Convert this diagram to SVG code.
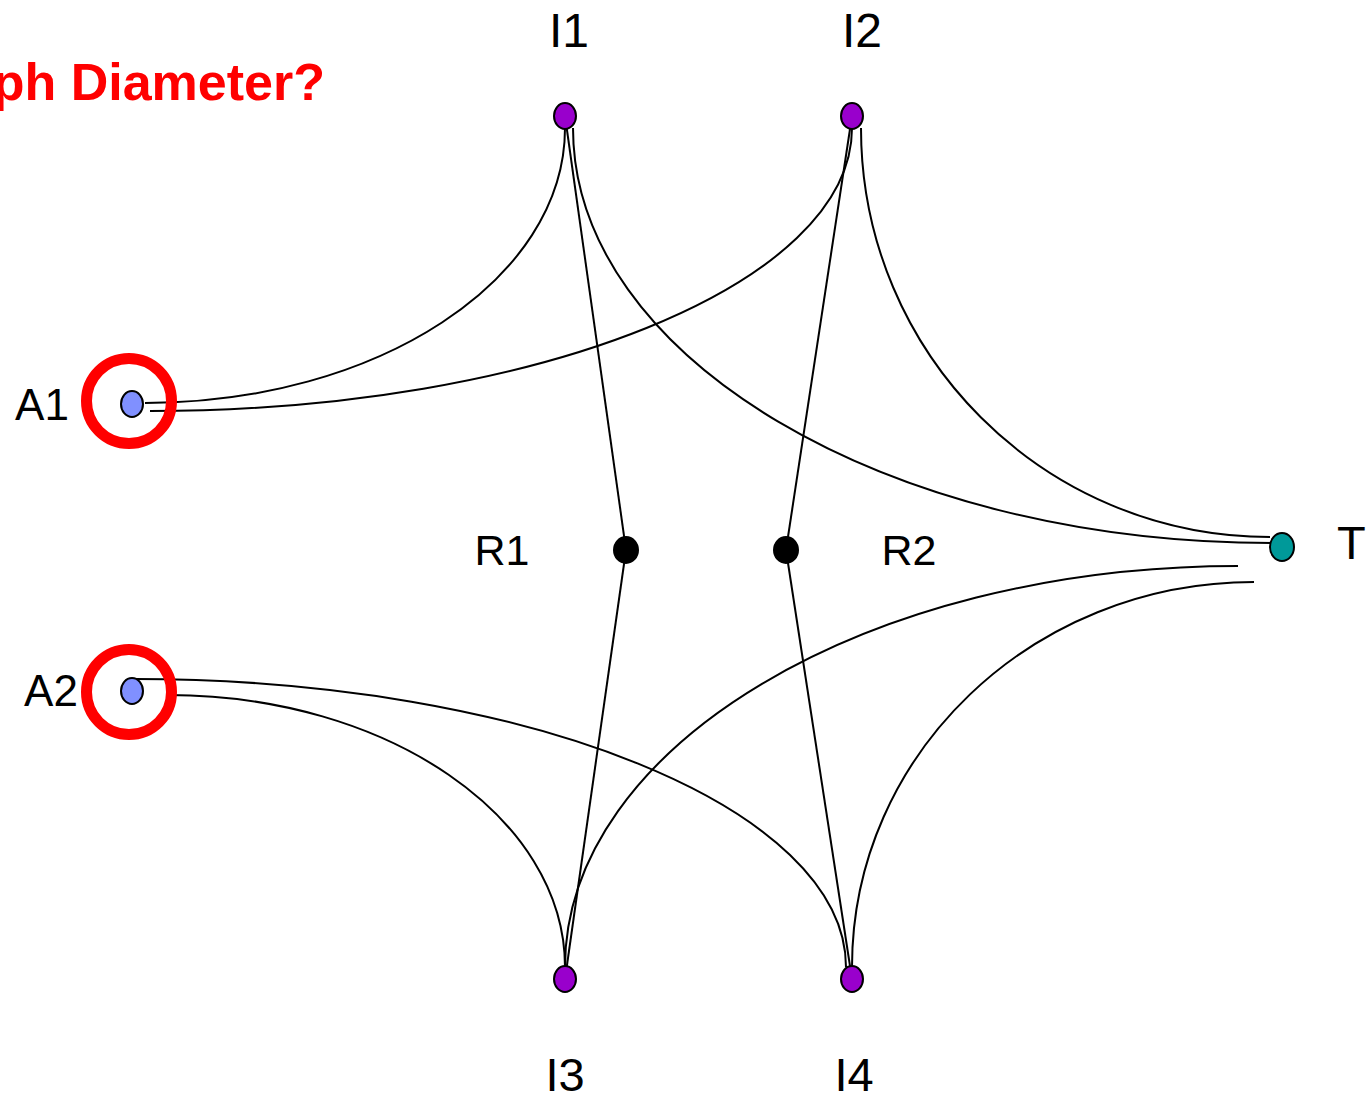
<svg xmlns="http://www.w3.org/2000/svg" width="1370" height="1098" viewBox="0 0 1370 1098">
<style>
.edge{fill:none;stroke:#000;stroke-width:2}
.node{stroke:#000;stroke-width:2}
.inner{fill:#9900CC}
.access{fill:#8090FF}
.router{fill:#000}
.target{fill:#009999}
.lbl{font-family:"Liberation Sans",Arial,sans-serif;fill:#000}
.ring{fill:none;stroke:#FF0000;stroke-width:11}
</style>
<rect width="1370" height="1098" fill="#fff"/>
<text x="325" y="100" font-family="Liberation Sans, Arial, sans-serif" font-weight="bold" font-size="52" fill="#FF0000" text-anchor="end">ph Diameter?</text>
<g id="connectors">
<path class="edge" d="M145,403 C377,403 565,280 565,128"/>
<path class="edge" d="M150,411 C538,411 852,284 852,128"/>
<path class="edge" d="M861,128 C861,354 1044,537 1270,537"/>
<path class="edge" d="M573,128 C573,357 886,543 1272,543"/>
<path class="edge" d="M1238,566 C867,566 565,746 565,967"/>
<path class="edge" d="M1254,582 C1032,582 852,754 852,967"/>
<path class="edge" d="M168,695 C387,695 565,817 565,967"/>
<path class="edge" d="M135,679 C527,679 846,808 846,967"/>
<line class="edge" x1="565" y1="116" x2="626" y2="550"/>
<line class="edge" x1="626" y1="550" x2="565" y2="979"/>
<line class="edge" x1="852" y1="116" x2="786" y2="550"/>
<line class="edge" x1="786" y1="550" x2="852" y2="979"/>
</g>
<g id="I1"><ellipse class="node inner" cx="565" cy="116" rx="11" ry="13"/><text class="lbl" x="569" y="47" font-size="48" text-anchor="middle">I1</text></g>
<g id="I2"><ellipse class="node inner" cx="852" cy="116" rx="11" ry="13"/><text class="lbl" x="862" y="47" font-size="48" text-anchor="middle">I2</text></g>
<g id="I3"><ellipse class="node inner" cx="565" cy="979" rx="11" ry="13"/><text class="lbl" x="565" y="1091" font-size="47" text-anchor="middle">I3</text></g>
<g id="I4"><ellipse class="node inner" cx="852" cy="979" rx="11" ry="13"/><text class="lbl" x="854" y="1091" font-size="47" text-anchor="middle">I4</text></g>
<g id="A1"><ellipse class="node access" cx="132" cy="404" rx="11" ry="13"/><text class="lbl" x="42" y="420" font-size="44" text-anchor="middle">A1</text><circle class="ring" cx="129" cy="401" r="42.5"/></g>
<g id="A2"><ellipse class="node access" cx="132" cy="691" rx="11" ry="13"/><text class="lbl" x="51" y="706" font-size="44" text-anchor="middle">A2</text><circle class="ring" cx="129" cy="692" r="42.5"/></g>
<g id="R1"><ellipse class="node router" cx="626" cy="550" rx="12" ry="13"/><text class="lbl" x="502" y="565" font-size="43" text-anchor="middle">R1</text></g>
<g id="R2"><ellipse class="node router" cx="786" cy="550" rx="12" ry="13"/><text class="lbl" x="909" y="565" font-size="43" text-anchor="middle">R2</text></g>
<g id="T"><ellipse class="node target" cx="1282" cy="547" rx="12" ry="14"/><text class="lbl" x="1337" y="559" font-size="47">T</text></g>
</svg>
